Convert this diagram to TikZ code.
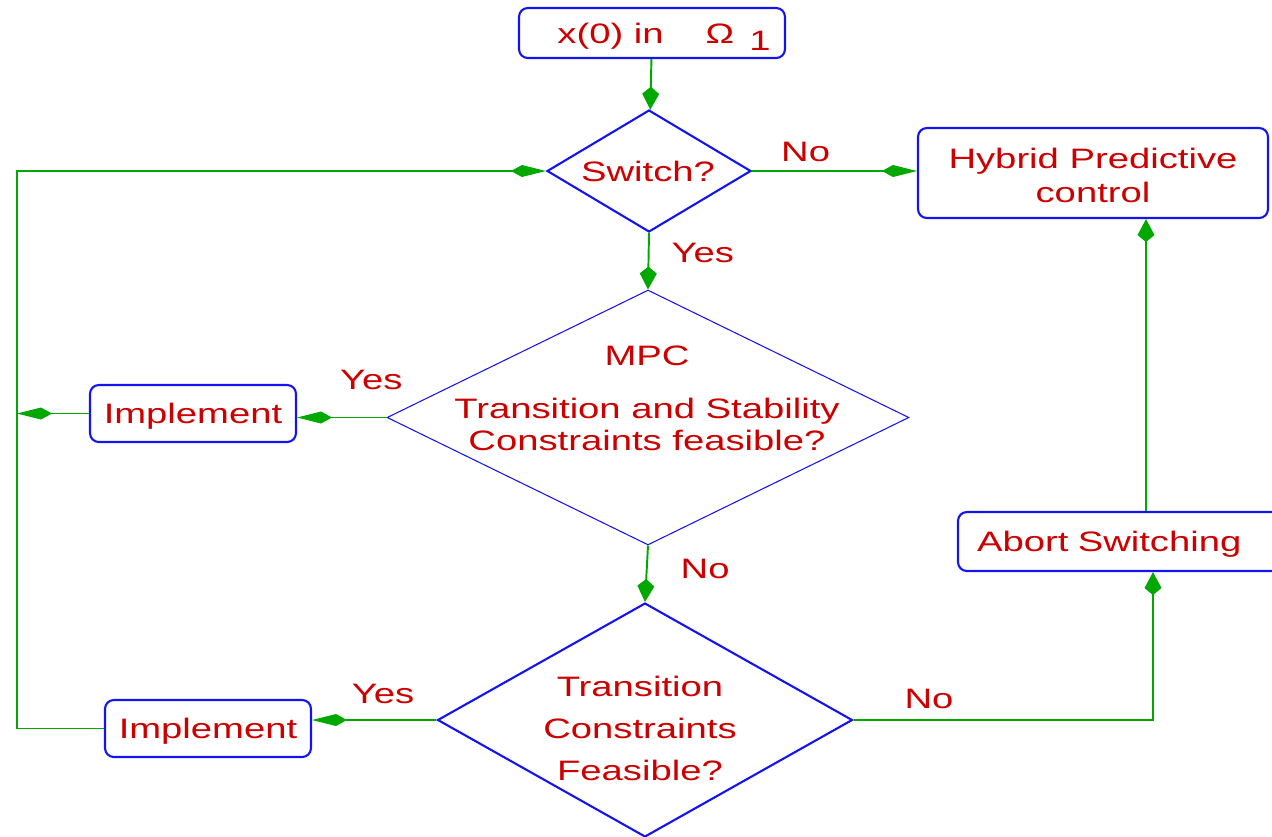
\documentclass[tikz,border=0pt]{standalone}
\usepackage{fontspec}
\setmainfont{Liberation Sans}[FakeStretch=1.36]
\usetikzlibrary{arrows.meta,shapes.geometric}
\definecolor{Wire}{HTML}{00A800}
\definecolor{Frame}{HTML}{1414F0}
\definecolor{Label}{HTML}{CC0000}
\tikzset{
  box/.style={
    rounded corners=5pt,draw=Frame,line width=1.2pt,
    inner sep=0pt,align=center,text=Label,text depth=0pt
  },
  decision/.style={
    diamond,aspect=1,draw=Frame,line width=1.2pt,inner sep=0pt
  },
  caption/.style={text=Label,align=center,inner sep=0pt},
  tag/.style={text=Label,inner sep=0pt},
  harrow/.style={-{Kite[length=0.7cm,width=0.24cm,inset=0.22cm]},line width=1.1pt,draw=Wire},
  varrow/.style={-{Kite[length=0.46cm,width=0.34cm,inset=0.14cm]},line width=1.1pt,draw=Wire}
}

\begin{document}
\begin{tikzpicture}[x=0.02cm,y=-0.02cm,font=\fontsize{16}{19.3}\selectfont]
  \path[use as bounding box,clip] (0,0) rectangle (1272,836);

  % boxes
  \node[box,minimum width=5.32cm,minimum height=1cm] (start) at (652,33)
    {\hspace{0.48cm}x(0) in\hspace{0.84cm}Ω\hspace{0.3cm}\raisebox{-0.14cm}{1}};
  \node[box,minimum width=7cm,minimum height=1.8cm] (hybrid) at (1093,173)
    {\raisebox{-0.08cm}{Hybrid Predictive}\\\raisebox{-0.08cm}{control}};
  \node[box,minimum width=4.12cm,minimum height=1.14cm] (impl1) at (193,413.5) {Implement};
  \node[box,minimum width=4.12cm,minimum height=1.14cm] (impl2) at (208,728.5) {Implement};
  \node[box,minimum width=6.54cm,minimum height=1.18cm,text width=5.78cm,
    align=left,inner xsep=0.38cm] (abort) at (1121.5,541.5) {Abort Switching};

  % decisions
  \node[decision,minimum width=4.08cm,minimum height=2.44cm] (switch) at (649,171) {};
  \node[decision,line width=0.6pt,minimum width=10.44cm,minimum height=5.1cm] (mpc) at (648,417.5) {};
  \node[decision,minimum width=8.3cm,minimum height=4.68cm] (trans) at (645,720) {};
  \node[caption] (switchtext) at (648,171) {Switch?};
  \node[caption,font=\fontsize{16}{18.2}\selectfont] (mpctext) at (647,398)
    {MPC\\[12pt]Transition and Stability\\Constraints feasible?};
  \node[caption,font=\fontsize{16}{23.9}\selectfont] (transtext) at (640,728)
    {Transition\\Constraints\\Feasible?};

  % connectors
  \coordinate (rail) at (17,171);
  \coordinate (riserup) at (1146,0);
  \coordinate (riserin) at (1153,0);
  \draw[varrow] (start) -- (switch);
  \draw[harrow] (switch.east) -- node[tag,above=0.16cm,pos=0.325] {No} (switch.east -| hybrid.west);
  \draw[varrow] (switch.south) -- node[tag,right=0.44cm,pos=0.345] {Yes} (mpc.north);
  \draw[harrow] (mpc.west) -- node[tag,above=0.54cm,pos=0.17] {Yes} (mpc.west -| impl1.east);
  \draw[harrow] (impl1.west) -- (impl1.west -| rail);
  \draw[varrow] (mpc.south) -- node[tag,right=0.66cm,pos=0.41] {No} (trans.north);
  \draw[harrow] (trans.west) -- node[tag,above=0.3cm,pos=0.43] {Yes} (trans.west -| impl2.east);
  \draw[harrow] (impl2.west) -| (rail) -- (switch.west);
  \draw[varrow] (trans.east) -| node[tag,above=0.2cm,pos=0.126] {No} (abort.south -| riserin);
  \draw[varrow] (abort.north -| riserup) -- (hybrid.south -| riserup);
\end{tikzpicture}
\end{document}
